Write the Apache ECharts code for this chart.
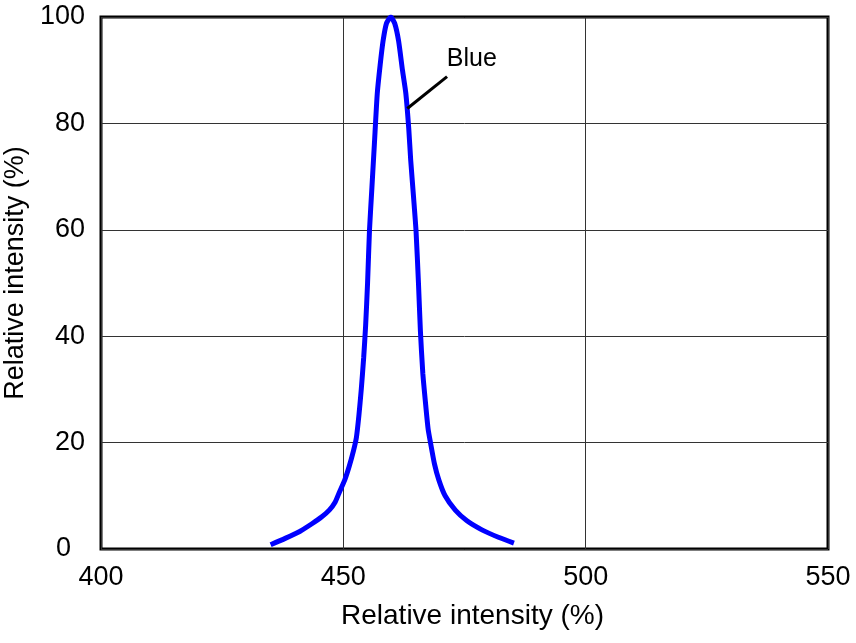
<!DOCTYPE html>
<html>
<head>
<meta charset="utf-8">
<script src="https://cdn.jsdelivr.net/npm/echarts@6/dist/echarts.min.js"></script>
<style>html,body{margin:0;padding:0;background:#fff;}#c{width:856px;height:643px;}</style>
</head>
<body>
<div id="c"></div>
<script>
var wavelength = [435, 438, 441, 443.6, 445.5, 447.1, 448.3, 449.1, 450.3, 451.2, 452.1, 452.7, 453.2, 453.7, 454.2, 454.6, 455.0, 455.4, 455.9, 456.4, 457.0, 457.6, 458.2, 458.9, 459.8, 460.6, 461.4, 462.2, 462.9, 463.5, 463.9, 464.5, 465.0, 465.5, 465.9, 466.4, 467.0, 467.5, 468.0, 468.8, 469.7, 471.0, 473.1, 475.5, 478.6, 482, 485.2];
var intensity = [0.8, 2.0, 3.3, 4.8, 6.0, 7.3, 8.8, 10.5, 13, 15.5, 18.5, 21, 25, 30, 36, 42, 50, 60, 68, 76, 85.6, 91, 95.5, 98.8, 100, 98.8, 95.5, 90, 85.6, 79, 73.1, 66, 59.8, 50, 41, 33, 27, 22.5, 19.9, 16, 13, 10, 7.3, 5.3, 3.6, 2.2, 1.1];
var leaderX = [463.2, 471.4];
var leaderY = [82.8, 88.8];
var labelText = 'Blue';
var labelPos = [476.5, 92.0];
var xTicks = [400, 450, 500, 550];
var yTicks = [0, 20, 40, 60, 80, 100];
var axisTitle = 'Relative intensity (%)';

var FONT = 'Liberation Sans, Arial, Helvetica, sans-serif';
var curve = wavelength.map(function (x, i) { return [x, intensity[i]]; });
var leader = leaderX.map(function (x, i) { return [x, leaderY[i]]; });

var chart = echarts.init(document.getElementById('c'), null, {renderer: 'canvas'});
chart.setOption({
  animation: false,
  backgroundColor: '#fff',
  grid: {left: 101, right: 28, top: 17, bottom: 94, containLabel: false, outerBoundsMode: 'none',
         show: true, borderColor: '#000', borderWidth: 3, backgroundColor: 'transparent'},
  xAxis: {
    type: 'value', min: xTicks[0], max: xTicks[xTicks.length - 1], interval: 50,
    name: axisTitle, nameLocation: 'middle', nameGap: 53,
    nameTextStyle: {color: '#000', fontSize: 28, fontFamily: FONT, padding: [0, 0, 0, 16]},
    axisLine: {show: false}, axisTick: {show: false},
    axisLabel: {color: '#000', fontSize: 27, fontFamily: FONT, margin: 15},
    splitLine: {show: true, lineStyle: {color: '#333', width: 1}}
  },
  yAxis: {
    type: 'value', min: yTicks[0], max: yTicks[yTicks.length - 1], interval: 20,
    name: axisTitle, nameLocation: 'middle', nameGap: 66,
    nameTextStyle: {color: '#000', fontSize: 27, fontFamily: FONT, padding: [0, 0, 0, 20]},
    axisLine: {show: false}, axisTick: {show: false},
    axisLabel: {color: '#000', fontSize: 27, fontFamily: FONT, margin: 16,
      formatter: function (v) { return v === 0 ? '{z|0}' : String(v); },
      rich: {z: {color: '#000', fontSize: 27, fontFamily: FONT, padding: [0, 14, 0, 0]}}},
    splitLine: {show: true, lineStyle: {color: '#333', width: 1}}
  },
  series: [
    {type: 'line', data: curve, smooth: 0.2, showSymbol: false, lineStyle: {color: '#0000ff', width: 5}, z: 3},
    {type: 'line', data: leader, showSymbol: false, lineStyle: {color: '#000', width: 3}, z: 4},
    {type: 'scatter', data: [labelPos], symbolSize: 0, itemStyle: {color: '#000', opacity: 1},
     label: {show: true, position: [0, 0], align: 'center', verticalAlign: 'middle', formatter: labelText,
             color: '#000', opacity: 1, textBorderWidth: 0, fontSize: 25, fontFamily: FONT}, z: 5}
  ]
});
</script>
</body>
</html>
